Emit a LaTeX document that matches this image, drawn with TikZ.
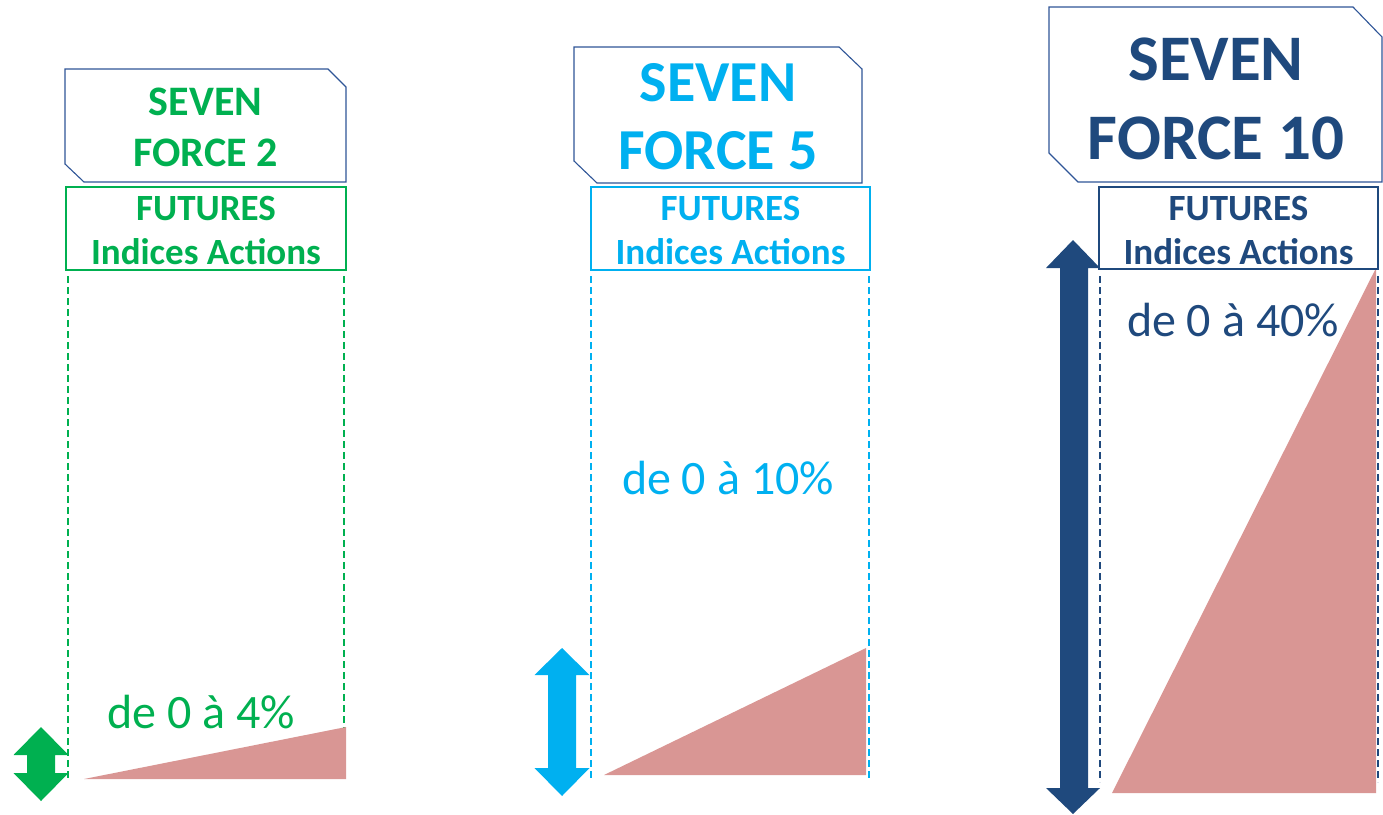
\documentclass[tikz,border=0pt]{standalone}
\usepackage{fontspec}
\setmainfont{Carlito}
\definecolor{sgreen}{HTML}{00B050}
\definecolor{scyan}{HTML}{00B0F0}
\definecolor{sdark}{HTML}{1F497D}
\definecolor{sframe}{HTML}{2F5597}
\definecolor{spink}{HTML}{D99694}
\tikzset{
  titlebox/.style={draw=sframe, line width=1.1pt, fill=white},
  futbox/.style={line width=1.8pt, fill=white},
  guide/.style={dash pattern=on 7pt off 4pt, line width=1.5pt},
  wedge/.style={fill=spink, draw=none},
  futtext/.style={align=center, font=\bfseries\fontsize{37}{44}\selectfont, inner sep=0pt},
  pcttext/.style={font=\fontsize{48}{56}\selectfont, inner sep=0pt},
}
\begin{document}
\begin{tikzpicture}[x=1pt,y=-1pt]
\useasboundingbox (0,0) rectangle (1383,814);
% ---------- column 1 ----------
\draw[guide, sgreen] (68,276) -- (68,780);
\draw[guide, sgreen] (344,276) -- (344,780);
\fill[wedge] (84,779) -- (346,779) -- (346,727) -- cycle;
\draw[titlebox] (65,69) -- (328,69) -- (346,87) -- (346,182) -- (84,182) -- (65,164) -- cycle;
\node[align=center, text=sgreen, font=\bfseries\fontsize{42}{51}\selectfont, inner sep=0pt] (t1) at (205.5,127) {SEVEN\\FORCE 2};
\draw[futbox, draw=sgreen] (66,187) rectangle (346,270);
\node[futtext, text=sgreen] (f1) at (206,230) {FUTURES\\Indices Actions};
\node[pcttext, text=sgreen] (p1) at (201,712) {de 0 à 4\%};
\fill[sgreen] (41,727) -- (68.5,755) -- (55,755) -- (55,773) -- (68.5,773) -- (41,801) -- (13.5,773) -- (27,773) -- (27,755) -- (13.5,755) -- cycle;
% ---------- column 2 ----------
\draw[guide, scyan] (591,276) -- (591,778);
\draw[guide, scyan] (869,276) -- (869,778);
\fill[wedge] (604,775) -- (866,775) -- (866,648) -- cycle;
\draw[titlebox] (574,47) -- (839,47) -- (862,69) -- (862,183) -- (597,183) -- (574,161) -- cycle;
\node[align=center, text=scyan, font=\bfseries\fontsize{58}{68}\selectfont, inner sep=0pt] (t2) at (718,117) {SEVEN\\FORCE 5};
\draw[futbox, draw=scyan] (591,187) rectangle (870,270);
\node[futtext, text=scyan] (f2) at (730.5,230) {FUTURES\\Indices Actions};
\node[pcttext, text=scyan] (p2) at (728,478) {de 0 à 10\%};
\fill[scyan] (562,648) -- (589.5,675) -- (576,675) -- (576,768) -- (589.5,768) -- (562,796) -- (534.5,768) -- (548,768) -- (548,675) -- (534.5,675) -- cycle;
% ---------- column 3 ----------
\draw[guide, sdark] (1100,276) -- (1100,782);
\draw[guide, sdark] (1378,276) -- (1378,782);
\fill[wedge] (1112,793) -- (1376,793) -- (1376,268) -- cycle;
\draw[titlebox] (1049,7) -- (1353,7) -- (1382,37) -- (1382,182) -- (1078,182) -- (1049,153) -- cycle;
\node[align=center, text=sdark, font=\bfseries\fontsize{65}{79}\selectfont, inner sep=0pt] (t3) at (1216,99) {SEVEN\\FORCE 10};
\draw[futbox, draw=sdark] (1099,187) rectangle (1378,269);
\node[futtext, text=sdark] (f3) at (1238.5,230) {FUTURES\\Indices Actions};
\node[pcttext, text=sdark] (p3) at (1233,320) {de 0 à 40\%};
\fill[sdark] (1073,240) -- (1100,268) -- (1088,268) -- (1088,788) -- (1100,788) -- (1073,814) -- (1046,788) -- (1060,788) -- (1060,268) -- (1046,268) -- cycle;
\end{tikzpicture}
\end{document}
